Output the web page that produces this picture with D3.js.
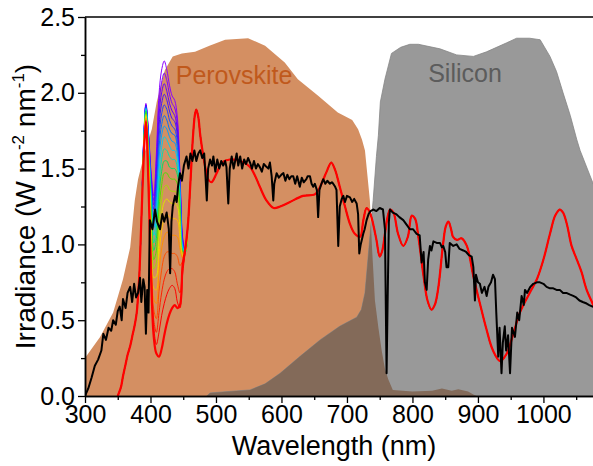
<!DOCTYPE html>
<html>
<head>
<meta charset="utf-8">
<script src="https://cdn.jsdelivr.net/npm/d3@7"></script>
<style>
  html, body { margin: 0; padding: 0; background: #fff; }
  svg { display: block; font-family: "Liberation Sans", Arial, sans-serif; }
</style>
</head>
<body>
<svg id="chart" width="593" height="466"></svg>
<script>
// ---------------- DATA ----------------
const xTicksMajor = [300, 400, 500, 600, 700, 800, 900, 1000];
const xTicksMinor = [350, 450, 550, 650, 750, 850, 950, 1050];
const yTicksMajor = [0.0, 0.5, 1.0, 1.5, 2.0, 2.5];
const yTicksMinor = [0.25, 0.75, 1.25, 1.75, 2.25];

// Perovskite absorbed-photon region (shaded)
const perovskiteArea = [
  [300,0.25],[323,0.39],[343,0.55],[358,0.77],[369,0.98],[376,1.29],[381,1.43],
  [392,1.62],[402,1.76],[409.5,1.94],[422,2.15],[434,2.24],[448,2.26],[468,2.27],
  [490,2.31],[514,2.35],[549,2.36],[575,2.31],[605,2.20],[625,2.09],[656,1.98],
  [686,1.87],[708,1.82],[717,1.76],[723,1.69],[727.5,1.62],[735,1.29],[738.5,0.96],
  [742.7,0.63],[748,0.45],[753,0.30],[758,0.18],[763,0.11],[770,0.04],[800,0.03],
  [830,0.035],[845,0.05],[860,0.035],[870,0.045],[885,0.03],[893,0.01],[898,0]
];

// Silicon absorbed-photon region (shaded)
const siliconArea = [
  [486,0],[491,0.02],[520,0.03],[552,0.04],[575,0.08],[598,0.15],[628,0.26],
  [659,0.37],[689,0.46],[715,0.52],[722,0.57],[727.5,0.68],[732,0.90],[736,1.10],
  [740,1.29],[745,1.58],[748,1.72],[751,1.94],[758,2.09],[768,2.26],[782,2.30],
  [796,2.32],[809,2.32],[842,2.29],[867.5,2.25],[893,2.24],[913,2.27],[944,2.33],
  [959,2.36],[979,2.36],[995,2.35],[1010,2.24],[1020,2.14],[1030,2.00],[1041,1.85],
  [1051,1.69],[1056,1.62],[1076,1.40],[1100,1.10]
];

// AM1.5G solar spectrum (black)
const am15g = [
  [300,0],[305,0.05],[310,0.12],[315,0.20],[320,0.24],[325,0.30],[328,0.41],[332,0.37],
  [336,0.45],[340,0.43],[343,0.50],[347,0.47],[350,0.56],[353,0.59],[356,0.50],[358,0.64],
  [362,0.58],[365,0.68],[369,0.72],[372,0.62],[375,0.74],[378,0.65],[381,0.68],[384,0.78],
  [386,0.62],[389,0.77],[391,0.72],[393,0.41],[395,0.70],[397,0.55],[399,1.16],[403,1.10],
  [407,1.23],[410,1.15],[414.5,1.10],[418,1.20],[421,1.15],[424.7,1.21],[428,1.10],[430,0.81],
  [432,1.15],[434,1.25],[437.4,1.32],[440,1.28],[442,1.38],[445,1.47],[448,1.42],[451,1.52],
  [455,1.58],[458,1.50],[461,1.60],[464,1.55],[467,1.62],[470,1.55],[473,1.60],[476,1.62],
  [479,1.57],[482,1.60],[484,1.45],[486,1.29],[488,1.50],[491,1.56],[494,1.52],[496,1.58],
  [499,1.48],[502,1.56],[505,1.50],[508,1.55],[511,1.52],[514,1.55],[516,1.51],[518.8,1.27],
  [521,1.50],[524,1.58],[527,1.50],[531.6,1.60],[534,1.52],[537,1.58],[540,1.50],[543,1.56],
  [546,1.53],[549,1.57],[552,1.54],[555,1.50],[558,1.55],[561,1.50],[564,1.53],[567,1.51],
  [570,1.48],[573,1.53],[577.4,1.51],[580,1.50],[582.4,1.54],[585,1.45],[587.5,1.29],[589,1.40],
  [592.6,1.47],[596,1.44],[600,1.46],[603,1.47],[606,1.42],[609,1.46],[612,1.43],[615,1.45],
  [618,1.45],[621,1.40],[624,1.45],[628,1.38],[631,1.44],[634,1.41],[638,1.43],[640,1.45],
  [643.5,1.45],[646,1.40],[648.5,1.38],[651,1.40],[654,1.36],[656,1.18],[658,1.36],[661,1.40],
  [663.8,1.43],[667,1.40],[670,1.42],[674,1.40],[677,1.41],[679,1.40],[682,1.38],[684,1.36],
  [686.7,0.99],[689,1.25],[692,1.30],[694.4,1.32],[697,1.28],[700,1.32],[704.6,1.31],[708,1.28],
  [711,1.30],[714.8,1.27],[717,1.20],[718.8,0.94],[721,1.00],[724.9,1.07],[727,1.10],[730,1.16],
  [733,1.20],[736,1.22],[740,1.23],[745,1.22],[750,1.24],[755,1.23],[758,1.10],[760.5,0.15],
  [762,0.60],[764,1.15],[765.6,1.23],[770,1.21],[775,1.20],[780,1.18],[786,1.16],[791,1.13],
  [796,1.10],[801,1.10],[806.4,1.07],[811,1.06],[814,0.88],[817,0.95],[819,0.75],[821.7,0.70],
  [824,0.90],[826.7,0.99],[829,0.96],[832,1.02],[837,1.01],[842,1.01],[845,0.98],[847,0.99],
  [850,0.95],[852,0.85],[854.7,0.85],[857,1.01],[862.3,0.99],[867.5,1.00],[872,0.97],[877.6,0.96],
  [882,0.95],[886,0.93],[890.4,0.92],[893,0.85],[895.4,0.63],[897,0.80],[900,0.75],[903,0.74],
  [906,0.68],[910,0.72],[913.3,0.66],[916,0.72],[920,0.75],[923,0.80],[926,0.77],[928,0.55],
  [931,0.26],[933,0.45],[936,0.15],[938,0.35],[941,0.46],[943,0.30],[946,0.40],[949,0.15],
  [952,0.45],[956.5,0.39],[960,0.55],[963,0.50],[966.7,0.66],[970,0.60],[971.8,0.70],[975,0.68],
  [980,0.72],[984.5,0.74],[990,0.75],[994.6,0.75],[1000,0.74],[1004.8,0.72],[1010,0.71],
  [1015,0.71],[1020,0.70],[1025,0.70],[1030,0.68],[1035,0.68],[1040,0.67],[1045.5,0.66],
  [1050,0.65],[1055,0.63],[1060,0.62],[1066,0.61],[1070,0.60],[1075,0.59],[1090,0.57]
];

// Transmitted spectra: shared rising head, per-curve 386-457 nm values, shared tail
const transmittedHead = [
  [350,0],[355,0.06],[358,0.13],[362,0.21],[365,0.27],[369,0.33],[373,0.41],[376,0.47],
  [379,0.55],[381,0.66],[383,0.80]
];
const rainbowWl = [386,390,393,397,401,405,409,413,417,421,425,429,433,437,441,445,449,453,457];
const rainbowSeries = [
  [1.15,1.74,1.93,1.74,1.47,1.32,1.60,1.99,2.15,2.21,2.15,2.05,1.98,1.95,1.84,1.47,1.05,0.95,1.12],
  [1.15,1.73,1.92,1.73,1.45,1.29,1.55,1.92,2.07,2.13,2.08,1.99,1.93,1.90,1.80,1.45,1.04,0.95,1.12],
  [1.15,1.72,1.92,1.72,1.43,1.26,1.49,1.85,2.00,2.06,2.01,1.93,1.88,1.85,1.76,1.43,1.03,0.95,1.12],
  [1.15,1.72,1.91,1.71,1.41,1.23,1.43,1.78,1.93,1.99,1.95,1.88,1.83,1.81,1.72,1.41,1.02,0.95,1.12],
  [1.15,1.71,1.91,1.70,1.39,1.19,1.37,1.71,1.86,1.92,1.89,1.82,1.78,1.76,1.68,1.39,1.01,0.95,1.12],
  [1.15,1.71,1.90,1.69,1.36,1.15,1.31,1.64,1.79,1.85,1.82,1.76,1.73,1.72,1.64,1.37,1.00,0.95,1.12],
  [1.15,1.70,1.90,1.67,1.33,1.11,1.25,1.57,1.72,1.78,1.76,1.71,1.68,1.67,1.60,1.35,0.99,0.95,1.12],
  [1.15,1.70,1.89,1.65,1.30,1.06,1.18,1.49,1.64,1.71,1.69,1.65,1.62,1.62,1.56,1.32,0.98,0.95,1.12],
  [1.15,1.69,1.89,1.63,1.27,1.01,1.11,1.41,1.56,1.63,1.62,1.58,1.56,1.56,1.51,1.29,0.97,0.95,1.12],
  [1.15,1.69,1.88,1.61,1.23,0.96,1.04,1.33,1.48,1.55,1.55,1.51,1.50,1.50,1.46,1.26,0.96,0.95,1.12],
  [1.15,1.68,1.87,1.59,1.19,0.90,0.96,1.24,1.39,1.47,1.47,1.44,1.43,1.43,1.40,1.22,0.95,0.95,1.12],
  [1.15,1.67,1.86,1.57,1.15,0.84,0.88,1.14,1.30,1.38,1.39,1.36,1.35,1.35,1.33,1.17,0.94,0.95,1.12],
  [1.15,1.66,1.85,1.54,1.10,0.78,0.79,1.04,1.20,1.28,1.30,1.28,1.27,1.27,1.25,1.11,0.93,0.95,1.12],
  [1.15,1.65,1.84,1.51,1.05,0.71,0.70,0.93,1.09,1.17,1.20,1.18,1.17,1.17,1.16,1.04,0.92,0.95,1.12],
  [1.15,1.64,1.83,1.48,0.99,0.64,0.61,0.82,0.97,1.05,1.08,1.07,1.06,1.06,1.05,0.97,0.91,0.95,1.12],
  [1.15,1.63,1.82,1.45,0.93,0.57,0.51,0.69,0.83,0.92,0.95,0.95,0.94,0.94,0.92,0.86,0.89,0.95,1.12],
  [1.15,1.62,1.81,1.42,0.87,0.50,0.42,0.55,0.68,0.77,0.82,0.84,0.84,0.82,0.74,0.68,0.84,0.95,1.12],
  [1.15,1.61,1.81,1.40,0.82,0.45,0.34,0.42,0.53,0.61,0.67,0.71,0.73,0.71,0.62,0.58,0.80,0.95,1.12],
  [1.15,1.60,1.80,1.38,0.76,0.39,0.28,0.26,0.31,0.40,0.48,0.54,0.58,0.60,0.58,0.60,0.86,0.97,1.12]
];
const rainbowColors = [
  "#8b00ff","#7a00ff","#6000ff","#4010ff","#2040ff","#0070ff","#00a0ff","#00d0f0",
  "#00e0b0","#00e060","#50e000","#a0e000","#e0e000","#ffc000","#ff9000","#ff5000",
  "#ff2000","#ff0000","#ff0000"
];
const transmittedTail = [
  [461,1.41],[465,1.72],[468,1.86],[470,1.89],[473,1.84],[476,1.72],[480,1.60],[484,1.50],
  [488,1.43],[493,1.41],[501,1.47],[509,1.54],[521,1.56],[537,1.55],[552,1.51],[560,1.45],
  [567,1.38],[577,1.29],[588,1.24],[598,1.25],[613,1.28],[633,1.32],[651,1.33],[659,1.38],
  [664,1.43],[669,1.48],[676,1.54],[682,1.49],[689,1.38],[697,1.25],[705,1.13],[712,1.07],
  [720,1.05],[725,1.16],[730,1.24],[734,1.22],[738,1.17],[745,1.03],[750,0.92],[754,0.96],
  [758,1.07],[762,1.18],[766,1.23],[771,1.21],[778,1.07],[786,0.99],[793,1.05],[799,1.19],
  [804,1.17],[809,1.05],[817,0.79],[823,0.63],[829,0.57],[834,0.60],[839,0.70],[847,1.01],
  [851,1.12],[855,1.15],[859,1.10],[862,1.05],[868,1.03],[875,1.04],[883,0.99],[893,0.79],
  [903,0.61],[913,0.44],[923,0.30],[934,0.23],[944,0.28],[954,0.41],[964,0.55],[979,0.68],
  [990,0.77],[1000,0.90],[1010,1.07],[1018,1.19],[1025,1.23],[1030,1.21],[1036,1.13],
  [1043,0.99],[1051,0.90],[1058,0.82],[1066,0.70],[1075,0.61],[1085,0.50]
];

const labels = [
  { text: "Perovskite", x: 438.5, y: 2.06, color: "#c0591c" },
  { text: "Silicon", x: 824, y: 2.07, color: "#5c5c5c" }
];

// ---------------- CHART ----------------
const W = 593, H = 466;
const svg = d3.select("#chart");
const x = d3.scaleLinear().domain([300, 1100]).range([85, 85 + 800 * 0.6549]);
const y = d3.scaleLinear().domain([0, 2.5]).range([396, 17]);

const defs = svg.append("defs");
defs.append("clipPath").attr("id", "plotClip")
  .append("rect").attr("x", 85).attr("y", 17).attr("width", W - 85).attr("height", 379);

const areaGen = d3.area().x(d => x(d[0])).y0(y(0)).y1(d => y(d[1])).curve(d3.curveLinear);

defs.append("clipPath").attr("id", "perClip")
  .append("path").attr("d", areaGen(perovskiteArea));

const plot = svg.append("g").attr("clip-path", "url(#plotClip)");

plot.append("path").attr("d", areaGen(perovskiteArea)).attr("fill", "#d48f62");
plot.append("path").attr("d", areaGen(siliconArea)).attr("fill", "#999999")
  .attr("stroke", "#858585").attr("stroke-width", 0.8);
plot.append("g").attr("clip-path", "url(#perClip)")
  .append("path").attr("d", areaGen(siliconArea)).attr("fill", "#836a59");

// labels
labels.forEach(l => {
  plot.append("text").attr("x", x(l.x)).attr("y", y(l.y))
    .attr("font-size", 25).attr("fill", l.color).text(l.text);
});

const lineGen = d3.line().x(d => x(d[0])).y(d => y(d[1]));
const smoothLine = d3.line().x(d => x(d[0])).y(d => y(d[1])).curve(d3.curveCatmullRom.alpha(0.5));

rainbowSeries.forEach((vals, i) => {
  const pts = transmittedHead.concat(rainbowWl.map((w, j) => [w, vals[j]])).concat(transmittedTail);
  const last = i === rainbowSeries.length - 1;
  plot.append("path").attr("d", smoothLine(pts)).attr("fill", "none")
    .attr("stroke", rainbowColors[i]).attr("stroke-width", last ? 2.2 : 1)
    .attr("stroke-linejoin", "round");
});

plot.append("path").attr("d", lineGen(am15g)).attr("fill", "none")
  .attr("stroke", "#000").attr("stroke-width", 2).attr("stroke-linejoin", "round");

// axes
const fmtY = d3.format(".1f");
svg.append("g").attr("transform", `translate(0,${y(0)})`)
  .call(d3.axisBottom(x).tickValues(xTicksMajor).tickSize(7).tickPadding(2)
    .tickFormat(d3.format("d")).tickSizeOuter(0));
svg.append("g").attr("transform", `translate(0,${y(0)})`)
  .call(d3.axisBottom(x).tickValues(xTicksMinor).tickSize(4).tickFormat("").tickSizeOuter(0));
svg.append("g").attr("transform", `translate(${x(300)},0)`)
  .call(d3.axisLeft(y).tickValues(yTicksMajor).tickSize(7).tickPadding(3).tickFormat(fmtY).tickSizeOuter(0));
svg.append("g").attr("transform", `translate(${x(300)},0)`)
  .call(d3.axisLeft(y).tickValues(yTicksMinor).tickSize(4).tickFormat("").tickSizeOuter(0));

svg.selectAll(".domain").attr("stroke", "#000").attr("stroke-width", 1.5);
svg.selectAll(".tick line").attr("stroke", "#000").attr("stroke-width", 1.3);
svg.selectAll(".tick text").attr("font-size", 25).attr("fill", "#000")
  .attr("font-family", "Liberation Sans, Arial, sans-serif");

// top frame
svg.append("line").attr("x1", x(300)).attr("x2", W).attr("y1", y(2.5)).attr("y2", y(2.5))
  .attr("stroke", "#000").attr("stroke-width", 1.5);

// axis titles
svg.append("text").attr("x", 334).attr("y", 455).attr("text-anchor", "middle")
  .attr("font-size", 27).text("Wavelength (nm)");

const yt = svg.append("text").attr("transform", `translate(35,${(y(0) + y(2.5)) / 2}) rotate(-90)`)
  .attr("text-anchor", "middle").attr("font-size", 28);
yt.append("tspan").text("Irradiance (W m");
yt.append("tspan").attr("dy", -11).attr("font-size", 17).text("-2");
yt.append("tspan").attr("dy", 11).text(" nm");
yt.append("tspan").attr("dy", -11).attr("font-size", 17).text("-1");
yt.append("tspan").attr("dy", 11).text(")");
</script>
</body>
</html>
